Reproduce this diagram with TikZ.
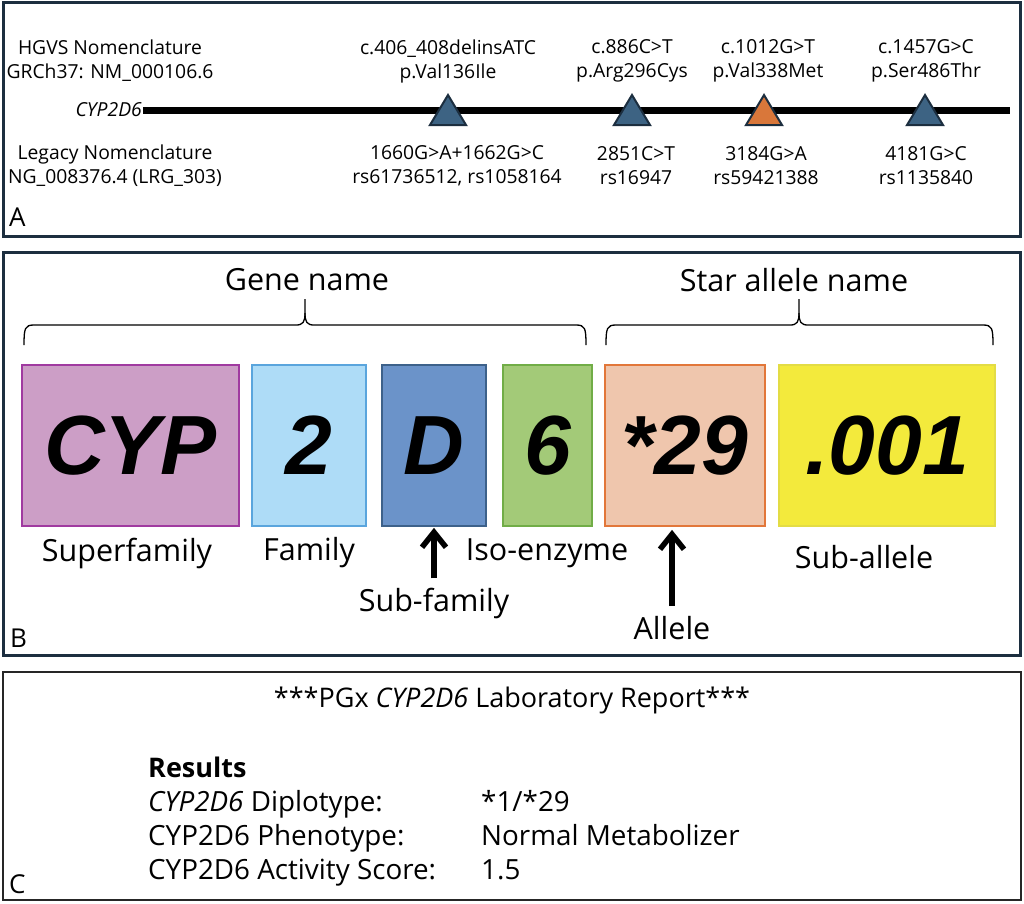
\documentclass[tikz,border=0pt]{standalone}
\usepackage{fontspec}
\setmainfont{Open Sans}
\newfontfamily\boxfont{Liberation Sans}
\usetikzlibrary{arrows.meta, positioning, calc}
\definecolor{navy}{HTML}{1C2E3F}
\definecolor{triblue}{HTML}{3D6383}
\definecolor{triorange}{HTML}{D9773A}
\definecolor{cypfill}{HTML}{CC9EC6}
\definecolor{cypline}{HTML}{A03AA0}
\definecolor{famfill}{HTML}{AEDCF7}
\definecolor{famline}{HTML}{5AA5DD}
\definecolor{subfill}{HTML}{6B93C9}
\definecolor{subline}{HTML}{3D618A}
\definecolor{isofill}{HTML}{A3CA78}
\definecolor{isoline}{HTML}{71AD47}
\definecolor{allfill}{HTML}{EFC6AD}
\definecolor{allline}{HTML}{E2773A}
\definecolor{sufill}{HTML}{F3EA3C}
\definecolor{suline}{HTML}{E3DC45}

\begin{document}
\begin{tikzpicture}[
  x=1pt, y=-1pt,
  vartext/.style={font=\fontsize{19.3}{24}\selectfont, align=center, inner sep=0pt},
  part/.style={font=\boxfont\bfseries\itshape\fontsize{84}{84}\selectfont,
    line width=2.5pt, inner sep=0pt, minimum height=161pt},
  partlabel/.style={font=\fontsize{30.5}{36}\selectfont, inner sep=0pt},
  panelletter/.style={font=\fontsize{26}{30}\selectfont, anchor=base west, inner sep=0pt},
  report/.style={font=\fontsize{27.8}{32}\selectfont, anchor=base west, inner sep=0pt},
  pointer/.style={line width=5.5pt, line join=miter},
]

% Page: 1024 x 903 (1 unit = 1pt, y runs down)
\useasboundingbox (0,0) rectangle (1024,903);

% --- Panel frames ---
\draw[navy, line width=3pt] (3,2) rectangle (1020,236);
\draw[navy, line width=3pt] (3,252) rectangle (1020,655);
\draw[black!85, line width=1.5pt] (3,672) rectangle (1021,900);

\node[panelletter] (letA) at (9,226) {A};
\node[panelletter] (letB) at (10,647) {B};
\node[panelletter] (letC) at (9,893) {C};

% ================= Panel A: variants on the gene =================
\pgfmathsetmacro{\liney}{110}   % gene line
\pgfmathsetmacro{\topy}{61}     % HGVS text row
\pgfmathsetmacro{\boty}{166}    % legacy text row

\node[vartext] (hgvs) at (110,\topy) {HGVS Nomenclature\\GRCh37: NM\_000106.6};
\node[vartext] (legacy) at (115,\boty) {Legacy Nomenclature\\NG\_008376.4 (LRG\_303)};

\node[vartext, font=\itshape\fontsize{19.3}{24}\selectfont, anchor=east, inner sep=1pt]
  (gene) at (143,\liney) {CYP2D6};
\coordinate (geneend) at (1010,\liney);
\draw[line width=7pt] (gene.east) -- (geneend);

% variant markers
\foreach \tx/\tc in {448/triblue, 632/triblue, 764/triorange, 925/triblue}
  \filldraw[fill=\tc, draw=navy, line width=2pt, line join=miter]
    (\tx-18,125) -- (\tx+18,125) -- (\tx,95) -- cycle;

% --- c.406_408delinsATC ---
\node[vartext] (vonetop) at (448,\topy) {c.406\_408delinsATC\\p.Val136Ile};
\node[vartext] (vonebot) at (457,\boty) {1660G>A+1662G>C\\rs61736512, rs1058164};

% --- c.886C>T ---
\node[vartext] (vtwotop) at (632,\topy) {c.886C>T\\p.Arg296Cys};
\node[vartext] (vtwobot) at (636,\boty) {2851C>T\\rs16947};

% --- c.1012G>T ---
\node[vartext] (vthreetop) at (768,\topy) {c.1012G>T\\p.Val338Met};
\node[vartext] (vthreebot) at (766,\boty) {3184G>A\\rs59421388};

% --- c.1457G>C ---
\node[vartext] (vfourtop) at (926,\topy) {c.1457G>C\\p.Ser486Thr};
\node[vartext] (vfourbot) at (926,\boty) {4181G>C\\rs1135840};

% ================= Panel B: parts of the name =================
\pgfmathsetmacro{\boxy}{445.5}
\pgfmathsetmacro{\laby}{553}

% braces
\node[partlabel] (genename) at (307,280) {Gene name};
\node[partlabel] (starname) at (794,280) {Star allele name};

\draw[line width=1.3pt]
  (24,345) .. controls (24,328) and (25,325) .. (34,325) -- (296,325)
  .. controls (303,325) and (305,322) .. (305,313) -- (305,299);
\draw[line width=1.3pt]
  (305,313) .. controls (305,322) and (307,325) .. (314,325) -- (576,325)
  .. controls (585,325) and (586,328) .. (586,345);
\draw[line width=1.3pt]
  (606,345) .. controls (606,328) and (607,325) .. (616,325) -- (790,325)
  .. controls (797,325) and (799,322) .. (799,313) -- (799,299);
\draw[line width=1.3pt]
  (799,313) .. controls (799,322) and (801,325) .. (808,325) -- (983,325)
  .. controls (992,325) and (993,328) .. (993,345);

% boxes
\node[part, fill=cypfill, draw=cypline, minimum width=217pt] (cypbox) at (130.5,\boxy) {CYP};
\node[part, fill=famfill, draw=famline, minimum width=114pt] (fambox) at (309,\boxy) {2};
\node[part, fill=subfill, draw=subline, minimum width=104pt] (subbox) at (434,\boxy) {D};
\node[part, fill=isofill, draw=isoline, minimum width=89pt] (isobox) at (547.5,\boxy) {6};
\node[part, fill=allfill, draw=allline, minimum width=160pt] (allbox) at (685,\boxy) {*29};
\node[part, fill=sufill, draw=suline, minimum width=216pt] (subabox) at (887,\boxy) {.001};

% labels
\node[partlabel] (superfam) at (127,\laby) {Superfamily};
\node[partlabel] (family) at (309,\laby) {Family};
\node[partlabel] (isoenz) at (547,\laby) {Iso-enzyme};
\node[partlabel] (subfam) at (434,603) {Sub-family};
\node[partlabel] (suballele) at (864,557) {Sub-allele};
\node[partlabel] (allele) at (672,628) {Allele};

% arrows (shaft + open chevron head)
\coordinate (subtip) at ([yshift=-5pt]subbox.south);
\coordinate (alltip) at ([yshift=-7pt]allele.north |- allbox.south);
\draw[pointer] ([yshift=9pt]subfam.north) -- (subtip);
\draw[pointer] ($(subtip)+(-12,15)$) -- (subtip) -- ($(subtip)+(12,15)$);
\draw[pointer] ([yshift=10pt]allele.north) -- (alltip);
\draw[pointer] ($(alltip)+(-12,15)$) -- (alltip) -- ($(alltip)+(12,15)$);

% ================= Panel C: laboratory report =================
\node[font=\fontsize{27}{32}\selectfont, anchor=base, inner sep=0pt] (reptitle) at (512,707)
  {***PGx \textit{CYP2D6} Laboratory Report***};

\node[report, font=\bfseries\fontsize{27}{32}\selectfont] (results) at (148,777) {Results};
\node[report] (diplab) at (148,811) {\textit{CYP2D6} Diplotype:};
\node[report] (phenlab) at (148,845) {CYP2D6 Phenotype:};
\node[report] (actlab) at (148,879) {CYP2D6 Activity Score:};
\node[report] (dipval) at (481,811) {*1/*29};
\node[report] (phenval) at (481,845) {Normal Metabolizer};
\node[report] (actval) at (481,879) {1.5};

\end{tikzpicture}
\end{document}
